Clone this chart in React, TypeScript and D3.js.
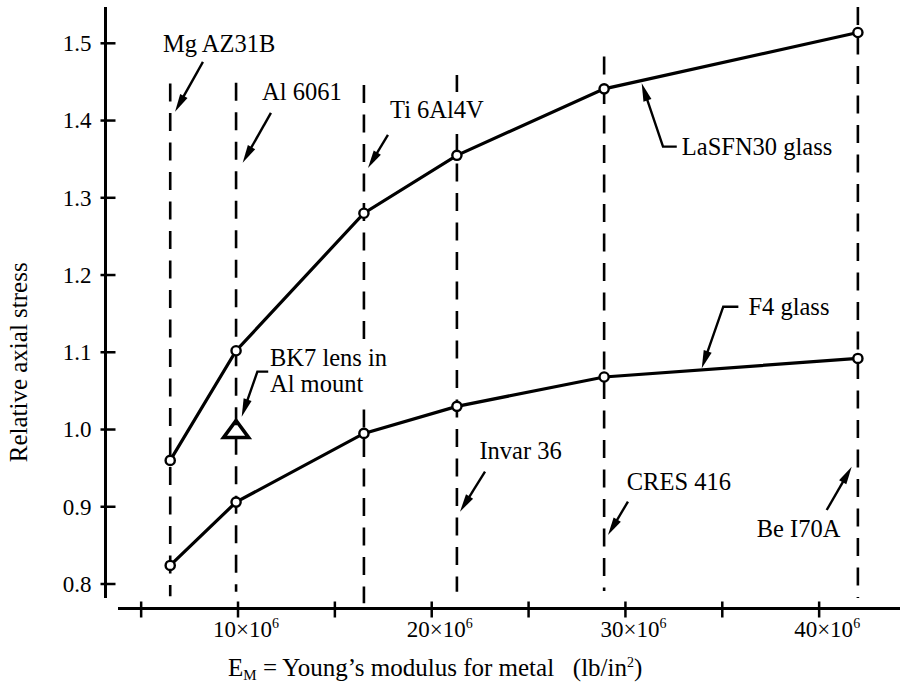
import { useEffect, useRef } from 'react';
import * as d3 from 'd3';

// metals (vertical guide lines) and their Young's modulus, x10^6 lb/in^2
const metals = ['Mg AZ31B', 'Al 6061', 'Ti 6Al4V', 'Invar 36', 'CRES 416', 'Be I70A'];
const modulus = [6.5, 9.9, 16.5, 21.3, 28.9, 42.0];

// relative axial stress
const lasfn30 = [0.960, 1.102, 1.280, 1.355, 1.441, 1.514];
const f4 = [0.824, 0.906, 0.995, 1.030, 1.068, 1.092];
const bk7 = [{ x: 9.9, y: 1.0 }];

// extent of each dashed guide, in stress units
const guideTop = [1.448, 1.449, 1.446, 1.459, 1.483, 1.547];
const guideBottom = [0.784, 0.79, 0.775, 0.79, 0.791, 0.782];

const yTicks = [0.8, 0.9, 1.0, 1.1, 1.2, 1.3, 1.4, 1.5];
const xTicks = [5, 10, 15, 20, 25, 30, 35, 40];
const xTickLabels = [10, 20, 30, 40];

// callouts: text lines at (x, y) and a leader path ending at an arrow tip
const callouts = [
  { lines: ['Mg AZ31B'], x: 6.13, y: 1.489, path: [[8.19, 1.476], [6.75, 1.4115]] },
  { lines: ['Al 6061'], x: 11.24, y: 1.4266, path: [[11.7, 1.41], [10.24, 1.3454]] },
  { lines: ['Ti 6Al4V'], x: 17.85, y: 1.4033, path: [[17.74, 1.3813], [16.71, 1.3386]] },
  { lines: ['LaSFN30 glass'], x: 32.91, y: 1.3554, path: [[32.65, 1.3662], [31.94, 1.3662], [30.84, 1.4482]] },
  { lines: ['F4 glass'], x: 36.35, y: 1.1483, path: [[35.83, 1.159], [35.05, 1.159], [33.94, 1.0793]] },
  { lines: ['BK7 lens in', 'Al mount'], x: 11.65, y: 1.0826, path: [[11.56, 1.0749], [11.0, 1.0749], [10.19, 1.0166]] },
  { lines: ['Invar 36'], x: 22.46, y: 0.9614, path: [[22.75, 0.9454], [21.46, 0.8936]] },
  { lines: ['CRES 416'], x: 30.07, y: 0.9217, path: [[30.13, 0.9066], [29.1, 0.8634]] },
  { lines: ['Be I70A'], x: 36.78, y: 0.8612, path: [[40.39, 0.8958], [41.68, 0.9519]] },
];

const FONT = '"Liberation Serif", "Times New Roman", serif';

export default function App() {
  const svgRef = useRef<SVGSVGElement>(null);

  useEffect(() => {
    if (!svgRef.current) return;
    const svg = d3.select(svgRef.current);
    svg.selectAll('*').remove();

    const width = 907;
    const height = 684;
    svg.attr('width', width).attr('height', height);

    const x = d3.scaleLinear().domain([0, 45]).range([44.3, 916]);
    const y = d3.scaleLinear().domain([0.8, 1.5]).range([584, 43.3]);

    svg.append('rect').attr('width', width).attr('height', height).attr('fill', '#fff');

    // Y axis
    const axisX = 105.5;
    svg.append('line')
      .attr('x1', axisX).attr('x2', axisX)
      .attr('y1', 7).attr('y2', 598)
      .attr('stroke', '#000').attr('stroke-width', 3);
    const yt = svg.append('g').selectAll('g').data(yTicks).enter().append('g');
    yt.append('line')
      .attr('x1', axisX - 5).attr('x2', axisX + 10)
      .attr('y1', d => y(d)).attr('y2', d => y(d))
      .attr('stroke', '#000').attr('stroke-width', 2.5);
    yt.append('text')
      .attr('x', axisX - 14)
      .attr('y', d => y(d))
      .attr('dy', '0.34em')
      .attr('text-anchor', 'end')
      .attr('font-family', FONT)
      .attr('font-size', '23px')
      .text(d => d3.format('.1f')(d));

    // X axis
    const axisY = y(0.8) + 24.5;
    svg.append('line')
      .attr('x1', 118).attr('x2', 900)
      .attr('y1', axisY).attr('y2', axisY)
      .attr('stroke', '#000').attr('stroke-width', 3);
    svg.append('g').selectAll('line').data(xTicks).enter().append('line')
      .attr('x1', d => x(d)).attr('x2', d => x(d))
      .attr('y1', axisY - 7).attr('y2', axisY + 9)
      .attr('stroke', '#000').attr('stroke-width', 2.5);
    const xl = svg.append('g').selectAll('text').data(xTickLabels).enter().append('text')
      .attr('x', d => x(d) - 25)
      .attr('y', axisY + 28)
      .attr('font-family', FONT)
      .attr('font-size', '23px');
    xl.append('tspan').text(d => `${d}×10`);
    xl.append('tspan').attr('dy', -9).attr('font-size', '14px').text('6');

    // axis titles
    svg.append('text')
      .attr('transform', `translate(27,${y(1.087)}) rotate(-90)`)
      .attr('text-anchor', 'middle')
      .attr('font-family', FONT)
      .attr('font-size', '25px')
      .text('Relative axial stress');

    const xt = svg.append('text')
      .attr('x', 228)
      .attr('y', 676)
      .attr('font-family', FONT)
      .attr('font-size', '25px')
      .style('white-space', 'pre');
    xt.append('tspan').text('E');
    xt.append('tspan').attr('dy', 4).attr('font-size', '15px').text('M');
    xt.append('tspan').attr('dy', -4).text(' = Young’s modulus for metal   (lb/in');
    xt.append('tspan').attr('dy', -9).attr('font-size', '14px').text('2');
    xt.append('tspan').attr('dy', 9).text(')');

    // dashed guides for each metal
    svg.append('g').selectAll('line').data(metals).enter().append('line')
      .attr('x1', (_, i) => x(modulus[i])).attr('x2', (_, i) => x(modulus[i]))
      .attr('y1', (_, i) => y(guideTop[i])).attr('y2', (_, i) => y(guideBottom[i]))
      .attr('stroke', '#000').attr('stroke-width', 2.6)
      .attr('stroke-dasharray', '18,11.5');

    // curves
    const line = d3.line<number>()
      .x((_, i) => x(modulus[i]))
      .y(d => y(d));
    [lasfn30, f4].forEach(series => {
      svg.append('path')
        .attr('d', line(series))
        .attr('fill', 'none')
        .attr('stroke', '#000')
        .attr('stroke-width', 3.2);
      svg.append('g').selectAll('circle').data(series).enter().append('circle')
        .attr('cx', (_, i) => x(modulus[i]))
        .attr('cy', d => y(d))
        .attr('r', 4.6)
        .attr('fill', '#fff')
        .attr('stroke', '#000')
        .attr('stroke-width', 2.4);
    });

    // BK7 in Al mount triangle
    svg.append('g').selectAll('path').data(bk7).enter().append('path')
      .attr('transform', d => `translate(${x(d.x)},${y(d.y)})`)
      .attr('d', 'M0,-9L12.5,8L-12.5,8Z')
      .attr('fill', 'none')
      .attr('stroke', '#000')
      .attr('stroke-width', 3.6)
      .attr('stroke-linejoin', 'miter');

    // callouts
    callouts.forEach(c => {
      const g = svg.append('g');
      const bg = g.append('rect').attr('fill', '#fff');
      const t = g.append('text')
        .attr('font-family', FONT)
        .attr('font-size', '24.5px');
      c.lines.forEach((ln, i) => {
        t.append('tspan')
          .attr('x', x(c.x))
          .attr('y', y(c.y) + i * 26)
          .text(ln);
      });
      // blank out the guide lines behind the label, as in the original
      const bb = (t.node() as SVGTextElement).getBBox();
      bg.attr('x', bb.x - 3).attr('y', bb.y - 4)
        .attr('width', bb.width + 6).attr('height', bb.height + 8);

      const pts = c.path.map(p => [x(p[0]), y(p[1])] as [number, number]);
      const tip = pts[pts.length - 1];
      const prev = pts[pts.length - 2];
      const dx = tip[0] - prev[0];
      const dy = tip[1] - prev[1];
      const len = Math.hypot(dx, dy);
      const ux = dx / len;
      const uy = dy / len;
      const headLen = 18;
      const headW = 4.2;
      const base: [number, number] = [tip[0] - ux * headLen, tip[1] - uy * headLen];
      const shaft = pts.slice(0, -1).concat([[tip[0] - ux * (headLen - 4), tip[1] - uy * (headLen - 4)]]);
      svg.append('path')
        .attr('d', d3.line()(shaft))
        .attr('fill', 'none')
        .attr('stroke', '#000')
        .attr('stroke-width', 2.4);
      svg.append('path')
        .attr('d', `M${tip[0]},${tip[1]}L${base[0] - uy * headW},${base[1] + ux * headW}L${base[0] + uy * headW},${base[1] - ux * headW}Z`)
        .attr('fill', '#000');
    });
  }, []);

  return (
    <svg ref={svgRef} style={{ position: 'absolute', left: 0, top: 0, display: 'block' }}></svg>
  );
}
